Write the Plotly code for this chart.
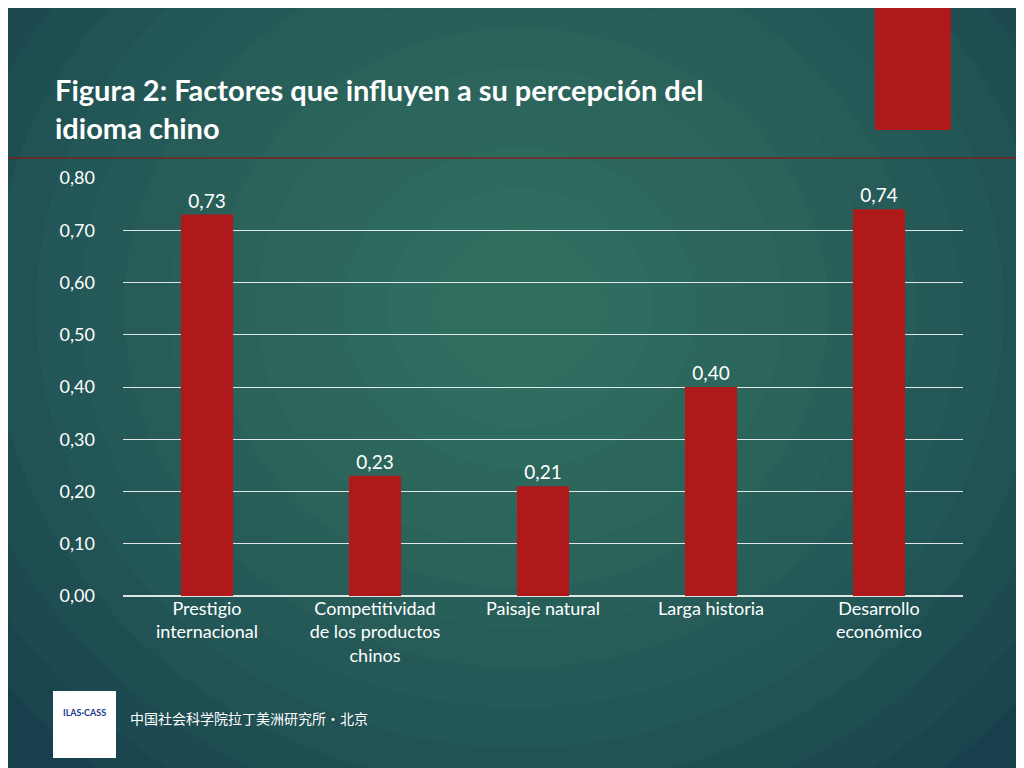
import plotly.graph_objects as go

categorias = ["Prestigio<br>internacional", "Competitividad<br>de los productos<br>chinos",
              "Paisaje natural", "Larga historia", "Desarrollo<br>económico"]
valores = [0.73, 0.23, 0.21, 0.40, 0.74]
etiquetas = ["0,73", "0,23", "0,21", "0,40", "0,74"]
ticks_val = [0, 0.1, 0.2, 0.3, 0.4, 0.5, 0.6, 0.7, 0.8]
ticks_txt = ["0,00", "0,10", "0,20", "0,30", "0,40", "0,50", "0,60", "0,70", "0,80"]

ROJO = "#b0191a"
FUENTE = "Lato"

# conversión píxel -> coordenadas "paper" (área de trazado 115..955 x 170..588)
def px(x):
    return (x - 115) / 840

def py(y):
    return (588 - y) / 418

fig = go.Figure()
fig.add_trace(go.Bar(
    x=categorias, y=valores, text=etiquetas, textposition="outside",
    marker=dict(color=ROJO, line=dict(width=0)),
    textfont=dict(color="white", size=19, family=FUENTE),
    cliponaxis=False, width=0.31
))

# fondo: degradado radial aproximado con elipses superpuestas
shapes = []
n = 14
for i in range(n):
    f = i / n
    r = 560 * (1 - f) + 40
    shapes.append(dict(type="circle", xref="paper", yref="paper", layer="below",
                       x0=px(512 - r * 1.1), x1=px(512 + r * 1.1), y0=py(300 + r), y1=py(300 - r),
                       fillcolor="rgba(70,140,120,0.07)", line=dict(width=0)))
# barra roja superior y línea separadora
shapes.append(dict(type="rect", xref="paper", yref="paper", x0=px(867), x1=px(943),
                   y0=py(122), y1=py(-5), fillcolor=ROJO, line=dict(width=0), layer="above"))
shapes.append(dict(type="line", xref="paper", yref="paper", x0=px(0), x1=px(1024),
                   y0=py(150), y1=py(150), line=dict(color="#7a2020", width=1.5)))
# logo (marcador)
shapes.append(dict(type="rect", xref="paper", yref="paper", x0=px(45), x1=px(108),
                   y0=py(750), y1=py(683), fillcolor="white", line=dict(width=0)))

fig.update_layout(
    width=1024, height=768,
    paper_bgcolor="#17404c", plot_bgcolor="rgba(0,0,0,0)",
    margin=dict(l=115, r=69, t=170, b=180),
    showlegend=False, shapes=shapes,
    font=dict(family=FUENTE, color="white"),
    xaxis=dict(showgrid=False, showline=False, ticks="", tickfont=dict(size=18, color="white")),
    yaxis=dict(range=[0, 0.8], tickvals=ticks_val, ticktext=ticks_txt, showgrid=True,
               gridcolor="rgba(255,255,255,0.85)", gridwidth=1, zeroline=True,
               zerolinecolor="rgba(255,255,255,0.85)", ticks="", ticklabelstandoff=27,
               tickfont=dict(size=18, color="white")),
    annotations=[
        dict(text="<b>Figura 2: Factores que influyen a su percepción del<br>idioma chino</b>",
             xref="paper", yref="paper", x=px(45), y=py(62),
             xanchor="left", yanchor="top", align="left", showarrow=False,
             font=dict(size=29, color="white", family=FUENTE)),
        dict(text="<b>ILAS·CASS</b>", xref="paper", yref="paper", x=px(76),
             y=py(712), xanchor="center", showarrow=False, font=dict(size=9, color="#1a3a8a")),
        dict(text="中国社会科学院拉丁美洲研究所·北京", xref="paper", yref="paper",
             x=px(120), y=py(722), xanchor="left", showarrow=False,
             font=dict(size=14, color="white", family="Noto Sans CJK SC")),
    ],
)
fig.write_html("out.html")
